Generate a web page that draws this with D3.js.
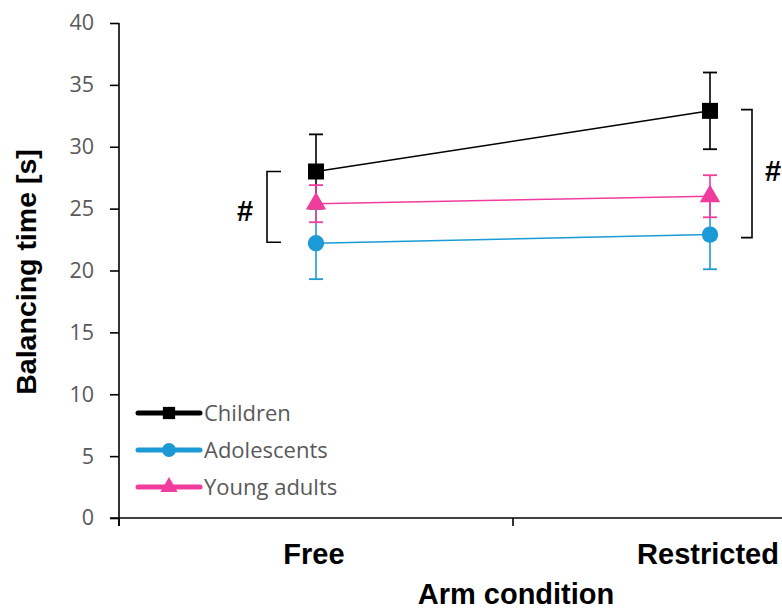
<!DOCTYPE html>
<html>
<head>
<meta charset="utf-8">
<script src="https://cdn.jsdelivr.net/npm/d3@7"></script>
<style>
  body { margin: 0; background: #fff; }
  svg { display: block; }
</style>
</head>
<body>
<svg id="chart" width="782" height="612"></svg>
<script>
// data
var conditions = ['Free', 'Restricted'];
var groups = ['Children', 'Adolescents', 'Young adults'];
var groupColors = ['#000000', '#1b9ad5', '#f03c9c'];
var groupSymbols = [d3.symbolSquare, d3.symbolCircle, d3.symbolTriangle];
var meanChildren = [28.0, 32.9];
var sdChildren = [3.0, 3.1];
var meanAdolescents = [22.2, 22.9];
var sdAdolescents = [2.9, 2.8];
var meanYoungAdults = [25.4, 26.0];
var sdYoungAdults = [1.5, 1.7];
var yTicks = [0, 5, 10, 15, 20, 25, 30, 35, 40];

var means = [meanChildren, meanAdolescents, meanYoungAdults];
var sds = [sdChildren, sdAdolescents, sdYoungAdults];

var svg = d3.select('#chart');

var x = d3.scaleBand().domain(conditions).range([119, 907]);
var y = d3.scaleLinear().domain([0, 40]).range([518, 23]);

var tickFont = '"Open Sans", Lato, sans-serif';
var boldFont = '"Liberation Sans", Arial, sans-serif';

//y axis
var gy = svg.append('g')
			.attr('transform', 'translate(119,0)')
			.call(d3.axisLeft(y).tickValues(yTicks).tickSize(9).tickSizeOuter(0).tickPadding(16));
gy.selectAll('.tick line').attr('stroke', '#000').attr('stroke-width', 1.6);
gy.selectAll('.tick text')
	.style('font-family', tickFont)
	.style('font-size', '21.5px')
	.attr('fill', '#595959');
gy.select('.domain')
	.attr('stroke', '#000').attr('stroke-width', 1.6)
	.attr('d', 'M0,' + y(40) + 'V' + (y(0) + 8));

//x axis (drawn by hand, ticks on band edges)
var gx = svg.append('g');
gx.append('line')
	.attr('x1', 110).attr('x2', 782)
	.attr('y1', y(0)).attr('y2', y(0))
	.attr('stroke', '#000').attr('stroke-width', 1.6);
gx.selectAll('.xtick')
	.data(conditions)
	.enter().append('line')
	.attr('class', 'xtick')
	.attr('x1', d => x(d)).attr('x2', d => x(d))
	.attr('y1', y(0)).attr('y2', y(0) + 8)
	.attr('stroke', '#000').attr('stroke-width', 1.6);
gx.selectAll('.xlabel')
	.data(conditions)
	.enter().append('text')
	.attr('class', 'xlabel')
	.attr('x', d => x(d) + x.bandwidth() / 2 - 2)
	.attr('y', 564)
	.attr('text-anchor', 'middle')
	.style('font-family', boldFont)
	.style('font-weight', 'bold')
	.style('font-size', '29px')
	.text(d => d);

//axis titles
svg.append('text')
	.attr('x', 516).attr('y', 604)
	.attr('text-anchor', 'middle')
	.style('font-family', boldFont)
	.style('font-weight', 'bold')
	.style('font-size', '29px')
	.text('Arm condition');
svg.append('text')
	.attr('transform', 'translate(36,272) rotate(-90)')
	.attr('text-anchor', 'middle')
	.style('font-family', boldFont)
	.style('font-weight', 'bold')
	.style('font-size', '28.5px')
	.text('Balancing time [s]');

//series
var line = d3.line().x((d, i) => x(conditions[i]) + x.bandwidth() / 2).y(d => y(d));
var capW = 7;
var markSizes = [256, 210, 180];

groups.forEach(function(name, gi) {
	var g = svg.append('g').attr('class', 'series');
	var col = groupColors[gi];
	g.append('path')
		.attr('d', line(means[gi]))
		.attr('fill', 'none')
		.attr('stroke', col)
		.attr('stroke-width', 1.5);
	conditions.forEach(function(c, ci) {
		var cx = x(c) + x.bandwidth() / 2;
		var lo = y(means[gi][ci] - sds[gi][ci]);
		var hi = y(means[gi][ci] + sds[gi][ci]);
		g.append('line')
			.attr('x1', cx).attr('x2', cx).attr('y1', lo).attr('y2', hi)
			.attr('stroke', col).attr('stroke-width', 1.6);
		[lo, hi].forEach(function(yy) {
			g.append('line')
				.attr('x1', cx - capW).attr('x2', cx + capW).attr('y1', yy).attr('y2', yy)
				.attr('stroke', col).attr('stroke-width', 1.8);
		});
	});
	g.selectAll('.pt')
		.data(means[gi])
		.enter().append('path')
		.attr('class', 'pt')
		.attr('transform', (d, i) => 'translate(' + (x(conditions[i]) + x.bandwidth() / 2) + ',' + y(d) + ')')
		.attr('d', d3.symbol().type(groupSymbols[gi]).size(markSizes[gi]))
		.attr('fill', col);
});

//significance brackets
function bracket(x0, x1, y0, y1, tx, ty) {
	svg.append('path')
		.attr('d', 'M' + x1 + ',' + y0 + 'H' + x0 + 'V' + y1 + 'H' + x1)
		.attr('fill', 'none')
		.attr('stroke', '#000')
		.attr('stroke-width', 1.6);
	svg.append('text')
		.attr('x', tx).attr('y', ty)
		.attr('text-anchor', 'middle')
		.style('font-family', boldFont)
		.style('font-weight', 'bold')
		.style('font-size', '29px')
		.text('#');
}
bracket(267, 281, y(28.0), y(22.2) - 1, 245, 221);
bracket(752, 741, y(33.0), y(22.9) + 3, 773, 181);

//legend
var legY = [413, 450, 487];
var legSizes = [150, 150, 130];
var lg = svg.append('g');
groups.forEach(function(name, gi) {
	lg.append('line')
		.attr('x1', 138).attr('x2', 200)
		.attr('y1', legY[gi]).attr('y2', legY[gi])
		.attr('stroke', groupColors[gi])
		.attr('stroke-width', 5)
		.attr('stroke-linecap', 'round');
	lg.append('path')
		.attr('transform', 'translate(169,' + legY[gi] + ')')
		.attr('d', d3.symbol().type(groupSymbols[gi]).size(legSizes[gi]))
		.attr('fill', groupColors[gi]);
	lg.append('text')
		.attr('x', 204).attr('y', legY[gi] + 8)
		.style('font-family', tickFont)
		.style('font-size', '22px')
		.attr('fill', '#595959')
		.text(name);
});
</script>
</body>
</html>
